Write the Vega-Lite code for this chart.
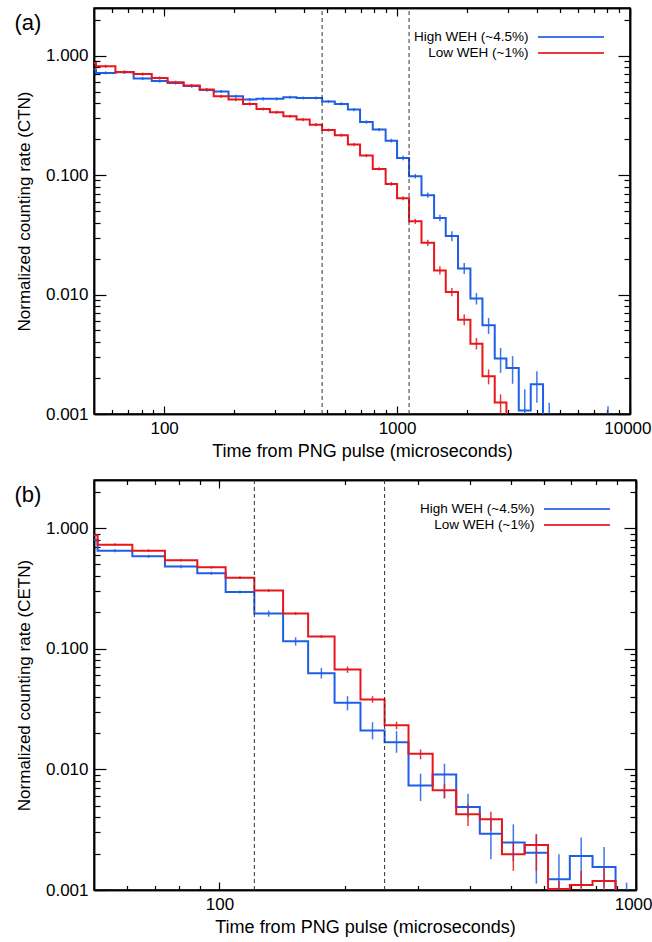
{
  "$schema": "https://vega.github.io/schema/vega-lite/v6.json",
  "background": "white",
  "padding": {"left": 13, "top": 6, "right": 0, "bottom": 0},
  "spacing": 17,
  "config": {
    "font": "Liberation Sans",
    "view": {"stroke": "black", "strokeWidth": 1.5},
    "axis": {"domainColor": "black", "domainWidth": 1.5, "tickColor": "black", "tickWidth": 1.2, "labelColor": "black", "titleColor": "black", "labelFontSize": 17, "titleFontSize": 17, "titleFontWeight": "normal", "grid": false},
    "legend": {"orient": "top-right", "offset": 22, "padding": 0, "symbolType": "M-5.7,0H5.7", "symbolSize": 134, "symbolStrokeWidth": 2, "labelAlign": "right", "labelOffset": -49.5, "labelFontSize": 13.5, "labelColor": "black", "rowPadding": 2, "labelLimit": 300}
  },
  "resolve": {"scale": {"color": "independent"}, "legend": {"color": "independent"}},
  "datasets": {
    "A": [
      {"s": "High WEH (~4.5%)", "t0": 45, "r": 0.764},
      {"s": "High WEH (~4.5%)", "t0": 51, "tc": 56.1, "r": 0.716, "lo": 0.695, "hi": 0.738},
      {"s": "High WEH (~4.5%)", "t0": 61.8, "tc": 67.6, "r": 0.725, "lo": 0.703, "hi": 0.747},
      {"s": "High WEH (~4.5%)", "t0": 74, "tc": 80.9, "r": 0.642, "lo": 0.623, "hi": 0.661},
      {"s": "High WEH (~4.5%)", "t0": 88.5, "tc": 95.7, "r": 0.612, "lo": 0.594, "hi": 0.63},
      {"s": "High WEH (~4.5%)", "t0": 103.5, "tc": 112.0, "r": 0.59, "lo": 0.572, "hi": 0.608},
      {"s": "High WEH (~4.5%)", "t0": 121.3, "tc": 131.3, "r": 0.555, "lo": 0.538, "hi": 0.572},
      {"s": "High WEH (~4.5%)", "t0": 142.2, "tc": 152.4, "r": 0.515, "lo": 0.5, "hi": 0.53},
      {"s": "High WEH (~4.5%)", "t0": 163.3, "tc": 175.7, "r": 0.5, "lo": 0.485, "hi": 0.515},
      {"s": "High WEH (~4.5%)", "t0": 189, "tc": 203.0, "r": 0.456, "lo": 0.442, "hi": 0.47},
      {"s": "High WEH (~4.5%)", "t0": 218.1, "tc": 233.1, "r": 0.428, "lo": 0.415, "hi": 0.441},
      {"s": "High WEH (~4.5%)", "t0": 249.2, "tc": 266.2, "r": 0.434, "lo": 0.421, "hi": 0.447},
      {"s": "High WEH (~4.5%)", "t0": 284.4, "tc": 304.0, "r": 0.434, "lo": 0.421, "hi": 0.447},
      {"s": "High WEH (~4.5%)", "t0": 325, "tc": 346.9, "r": 0.448, "lo": 0.435, "hi": 0.461},
      {"s": "High WEH (~4.5%)", "t0": 370.2, "tc": 395.2, "r": 0.442, "lo": 0.429, "hi": 0.455},
      {"s": "High WEH (~4.5%)", "t0": 421.8, "tc": 448.4, "r": 0.442, "lo": 0.429, "hi": 0.455},
      {"s": "High WEH (~4.5%)", "t0": 476.7, "tc": 507.6, "r": 0.412, "lo": 0.4, "hi": 0.424},
      {"s": "High WEH (~4.5%)", "t0": 540.4, "tc": 576.5, "r": 0.394, "lo": 0.382, "hi": 0.406},
      {"s": "High WEH (~4.5%)", "t0": 615, "tc": 653.2, "r": 0.353, "lo": 0.342, "hi": 0.364},
      {"s": "High WEH (~4.5%)", "t0": 693.7, "tc": 738.6, "r": 0.278, "lo": 0.269, "hi": 0.287},
      {"s": "High WEH (~4.5%)", "t0": 786.5, "tc": 838.2, "r": 0.24, "lo": 0.232, "hi": 0.248},
      {"s": "High WEH (~4.5%)", "t0": 893.2, "tc": 945.1, "r": 0.194, "lo": 0.187, "hi": 0.201},
      {"s": "High WEH (~4.5%)", "t0": 1000, "tc": 1061.1, "r": 0.139, "lo": 0.133, "hi": 0.145},
      {"s": "High WEH (~4.5%)", "t0": 1126, "tc": 1197.2, "r": 0.0977, "lo": 0.0935, "hi": 0.102},
      {"s": "High WEH (~4.5%)", "t0": 1273, "tc": 1354.9, "r": 0.0678, "lo": 0.0645, "hi": 0.0713},
      {"s": "High WEH (~4.5%)", "t0": 1442, "tc": 1527.5, "r": 0.0437, "lo": 0.041, "hi": 0.0465},
      {"s": "High WEH (~4.5%)", "t0": 1618, "tc": 1719.3, "r": 0.0309, "lo": 0.0279, "hi": 0.0339},
      {"s": "High WEH (~4.5%)", "t0": 1827, "tc": 1942.4, "r": 0.0165, "lo": 0.01487, "hi": 0.01838},
      {"s": "High WEH (~4.5%)", "t0": 2065, "tc": 2191.6, "r": 0.00925, "lo": 0.00825, "hi": 0.01031},
      {"s": "High WEH (~4.5%)", "t0": 2326, "tc": 2471.5, "r": 0.00553, "lo": 0.00468, "hi": 0.00637},
      {"s": "High WEH (~4.5%)", "t0": 2626, "tc": 2782.3, "r": 0.00291, "lo": 0.00221, "hi": 0.00357},
      {"s": "High WEH (~4.5%)", "t0": 2948, "tc": 3133.2, "r": 0.00243, "lo": 0.00179, "hi": 0.00305},
      {"s": "High WEH (~4.5%)", "t0": 3330, "tc": 3533.3, "r": 0.00107, "lo": 0.0008, "hi": 0.00161},
      {"s": "High WEH (~4.5%)", "t0": 3749, "tc": 3983.7, "r": 0.00177, "lo": 0.00124, "hi": 0.00228},
      {"s": "High WEH (~4.5%)", "t0": 4233, "tc": 4501.0, "r": 0.0007, "lo": 0.0005, "hi": 0.00124},
      {"s": "High WEH (~4.5%)", "t0": 4786, "r": 0.0003},
      {"s": "High WEH (~4.5%)", "t0": 7550, "tc": 8046, "r": 0.0007, "lo": 0.0005, "hi": 0.00116},
      {"s": "High WEH (~4.5%)", "t0": 8580, "r": 0.0007},
      {"s": "Low WEH (~1%)", "t0": 45, "r": 0.86},
      {"s": "Low WEH (~1%)", "t0": 51, "tc": 56.1, "r": 0.814, "lo": 0.79, "hi": 0.838},
      {"s": "Low WEH (~1%)", "t0": 61.8, "tc": 67.6, "r": 0.73, "lo": 0.708, "hi": 0.752},
      {"s": "Low WEH (~1%)", "t0": 74, "tc": 80.9, "r": 0.7, "lo": 0.679, "hi": 0.721},
      {"s": "Low WEH (~1%)", "t0": 88.5, "tc": 95.7, "r": 0.65, "lo": 0.631, "hi": 0.669},
      {"s": "Low WEH (~1%)", "t0": 103.5, "tc": 112.0, "r": 0.598, "lo": 0.58, "hi": 0.616},
      {"s": "Low WEH (~1%)", "t0": 121.3, "tc": 131.3, "r": 0.561, "lo": 0.544, "hi": 0.578},
      {"s": "Low WEH (~1%)", "t0": 142.2, "tc": 152.4, "r": 0.519, "lo": 0.503, "hi": 0.535},
      {"s": "Low WEH (~1%)", "t0": 163.3, "tc": 175.7, "r": 0.456, "lo": 0.442, "hi": 0.47},
      {"s": "Low WEH (~1%)", "t0": 189, "tc": 203.0, "r": 0.428, "lo": 0.415, "hi": 0.441},
      {"s": "Low WEH (~1%)", "t0": 218.1, "tc": 233.1, "r": 0.394, "lo": 0.382, "hi": 0.406},
      {"s": "Low WEH (~1%)", "t0": 249.2, "tc": 266.2, "r": 0.357, "lo": 0.346, "hi": 0.368},
      {"s": "Low WEH (~1%)", "t0": 284.4, "tc": 304.0, "r": 0.335, "lo": 0.325, "hi": 0.345},
      {"s": "Low WEH (~1%)", "t0": 325, "tc": 346.9, "r": 0.311, "lo": 0.302, "hi": 0.32},
      {"s": "Low WEH (~1%)", "t0": 370.2, "tc": 395.2, "r": 0.291, "lo": 0.282, "hi": 0.3},
      {"s": "Low WEH (~1%)", "t0": 421.8, "tc": 448.4, "r": 0.264, "lo": 0.256, "hi": 0.272},
      {"s": "Low WEH (~1%)", "t0": 476.7, "tc": 507.6, "r": 0.238, "lo": 0.231, "hi": 0.245},
      {"s": "Low WEH (~1%)", "t0": 540.4, "tc": 576.5, "r": 0.2155, "lo": 0.209, "hi": 0.222},
      {"s": "Low WEH (~1%)", "t0": 615, "tc": 653.2, "r": 0.18, "lo": 0.1745, "hi": 0.1855},
      {"s": "Low WEH (~1%)", "t0": 693.7, "tc": 738.6, "r": 0.1456, "lo": 0.141, "hi": 0.15},
      {"s": "Low WEH (~1%)", "t0": 786.5, "tc": 838.2, "r": 0.1125, "lo": 0.109, "hi": 0.116},
      {"s": "Low WEH (~1%)", "t0": 893.2, "tc": 945.1, "r": 0.0843, "lo": 0.0813, "hi": 0.0873},
      {"s": "Low WEH (~1%)", "t0": 1000, "tc": 1061.1, "r": 0.064, "lo": 0.0615, "hi": 0.0665},
      {"s": "Low WEH (~1%)", "t0": 1126, "tc": 1197.2, "r": 0.041, "lo": 0.039, "hi": 0.043},
      {"s": "Low WEH (~1%)", "t0": 1273, "tc": 1354.9, "r": 0.0271, "lo": 0.0255, "hi": 0.0287},
      {"s": "Low WEH (~1%)", "t0": 1442, "tc": 1527.5, "r": 0.0159, "lo": 0.0147, "hi": 0.01725},
      {"s": "Low WEH (~1%)", "t0": 1618, "tc": 1719.3, "r": 0.0105, "lo": 0.00968, "hi": 0.01135},
      {"s": "Low WEH (~1%)", "t0": 1827, "tc": 1942.4, "r": 0.00614, "lo": 0.00553, "hi": 0.00684},
      {"s": "Low WEH (~1%)", "t0": 2065, "tc": 2191.6, "r": 0.00387, "lo": 0.00347, "hi": 0.00433},
      {"s": "Low WEH (~1%)", "t0": 2326, "tc": 2471.5, "r": 0.00207, "lo": 0.00177, "hi": 0.00236},
      {"s": "Low WEH (~1%)", "t0": 2626, "tc": 2782.3, "r": 0.00125, "lo": 0.0008, "hi": 0.00146},
      {"s": "Low WEH (~1%)", "t0": 2948, "r": 0.0004},
      {"s": "Low WEH (~1%)", "t0": 3330, "r": 0.0004}
    ],
    "B": [
      {"s": "High WEH (~4.5%)", "t0": 45, "r": 0.8},
      {"s": "High WEH (~4.5%)", "t0": 51, "tc": 56.1, "r": 0.649, "lo": 0.63, "hi": 0.668},
      {"s": "High WEH (~4.5%)", "t0": 61.8, "tc": 67.6, "r": 0.583, "lo": 0.566, "hi": 0.6},
      {"s": "High WEH (~4.5%)", "t0": 74, "tc": 80.9, "r": 0.479, "lo": 0.465, "hi": 0.493},
      {"s": "High WEH (~4.5%)", "t0": 88.5, "tc": 95.7, "r": 0.4216, "lo": 0.409, "hi": 0.434},
      {"s": "High WEH (~4.5%)", "t0": 103.5, "tc": 112.0, "r": 0.295, "lo": 0.286, "hi": 0.304},
      {"s": "High WEH (~4.5%)", "t0": 121.3, "tc": 131.3, "r": 0.1955, "lo": 0.184, "hi": 0.207},
      {"s": "High WEH (~4.5%)", "t0": 142.2, "tc": 152.4, "r": 0.115, "lo": 0.106, "hi": 0.1245},
      {"s": "High WEH (~4.5%)", "t0": 163.3, "tc": 175.7, "r": 0.0626, "lo": 0.0566, "hi": 0.0693},
      {"s": "High WEH (~4.5%)", "t0": 189, "tc": 203.0, "r": 0.0356, "lo": 0.0308, "hi": 0.0404},
      {"s": "High WEH (~4.5%)", "t0": 218.1, "tc": 233.1, "r": 0.021, "lo": 0.0177, "hi": 0.0246},
      {"s": "High WEH (~4.5%)", "t0": 249.2, "tc": 266.2, "r": 0.0168, "lo": 0.01372, "hi": 0.0207},
      {"s": "High WEH (~4.5%)", "t0": 284.4, "tc": 304.0, "r": 0.00736, "lo": 0.00546, "hi": 0.0092},
      {"s": "High WEH (~4.5%)", "t0": 325, "tc": 346.9, "r": 0.00908, "lo": 0.00575, "hi": 0.01113},
      {"s": "High WEH (~4.5%)", "t0": 370.2, "tc": 395.2, "r": 0.00487, "lo": 0.00403, "hi": 0.00628},
      {"s": "High WEH (~4.5%)", "t0": 421.8, "tc": 448.4, "r": 0.00293, "lo": 0.0018, "hi": 0.00397},
      {"s": "High WEH (~4.5%)", "t0": 476.7, "tc": 507.6, "r": 0.00247, "lo": 0.00174, "hi": 0.0035},
      {"s": "High WEH (~4.5%)", "t0": 540.4, "tc": 576.5, "r": 0.00204, "lo": 0.00113, "hi": 0.0029},
      {"s": "High WEH (~4.5%)", "t0": 615, "tc": 653.2, "r": 0.00123, "lo": 0.0007, "hi": 0.00198},
      {"s": "High WEH (~4.5%)", "t0": 693.7, "tc": 738.6, "r": 0.00191, "lo": 0.00105, "hi": 0.00272},
      {"s": "High WEH (~4.5%)", "t0": 786.5, "tc": 838.2, "r": 0.00155, "lo": 0.00105, "hi": 0.00227},
      {"s": "High WEH (~4.5%)", "t0": 893.2, "tc": 949.3, "r": 0.0007, "lo": 0.0005, "hi": 0.00115},
      {"s": "High WEH (~4.5%)", "t0": 1009, "r": 0.0007},
      {"s": "Low WEH (~1%)", "t0": 45, "r": 0.87},
      {"s": "Low WEH (~1%)", "t0": 51, "tc": 56.1, "r": 0.728, "lo": 0.71, "hi": 0.746},
      {"s": "Low WEH (~1%)", "t0": 61.8, "tc": 67.6, "r": 0.649, "lo": 0.633, "hi": 0.665},
      {"s": "Low WEH (~1%)", "t0": 74, "tc": 80.9, "r": 0.54, "lo": 0.527, "hi": 0.553},
      {"s": "Low WEH (~1%)", "t0": 88.5, "tc": 95.7, "r": 0.472, "lo": 0.46, "hi": 0.484},
      {"s": "Low WEH (~1%)", "t0": 103.5, "tc": 112.0, "r": 0.388, "lo": 0.378, "hi": 0.398},
      {"s": "Low WEH (~1%)", "t0": 121.3, "tc": 131.3, "r": 0.303, "lo": 0.295, "hi": 0.311},
      {"s": "Low WEH (~1%)", "t0": 142.2, "tc": 152.4, "r": 0.1955, "lo": 0.19, "hi": 0.201},
      {"s": "Low WEH (~1%)", "t0": 163.3, "tc": 175.7, "r": 0.126, "lo": 0.1225, "hi": 0.1295},
      {"s": "Low WEH (~1%)", "t0": 189, "tc": 203.0, "r": 0.0672, "lo": 0.063, "hi": 0.0712},
      {"s": "Low WEH (~1%)", "t0": 218.1, "tc": 233.1, "r": 0.0379, "lo": 0.0356, "hi": 0.0404},
      {"s": "Low WEH (~1%)", "t0": 249.2, "tc": 266.2, "r": 0.02325, "lo": 0.02143, "hi": 0.02478},
      {"s": "Low WEH (~1%)", "t0": 284.4, "tc": 304.0, "r": 0.01346, "lo": 0.0121, "hi": 0.01463},
      {"s": "Low WEH (~1%)", "t0": 325, "tc": 346.9, "r": 0.0067, "lo": 0.00575, "hi": 0.0076},
      {"s": "Low WEH (~1%)", "t0": 370.2, "tc": 395.2, "r": 0.00424, "lo": 0.00339, "hi": 0.00513},
      {"s": "Low WEH (~1%)", "t0": 421.8, "tc": 448.4, "r": 0.00385, "lo": 0.00308, "hi": 0.00446},
      {"s": "Low WEH (~1%)", "t0": 476.7, "tc": 507.6, "r": 0.00198, "lo": 0.00144, "hi": 0.00247},
      {"s": "Low WEH (~1%)", "t0": 540.4, "tc": 576.5, "r": 0.00236, "lo": 0.00144, "hi": 0.0029},
      {"s": "Low WEH (~1%)", "t0": 615, "tc": 653.2, "r": 0.00102, "lo": 0.0008, "hi": 0.00119},
      {"s": "Low WEH (~1%)", "t0": 693.7, "tc": 738.6, "r": 0.0011, "lo": 0.0008, "hi": 0.00144},
      {"s": "Low WEH (~1%)", "t0": 786.5, "tc": 838.2, "r": 0.00119, "lo": 0.0008, "hi": 0.00153},
      {"s": "Low WEH (~1%)", "t0": 893.2, "r": 0.0005},
      {"s": "Low WEH (~1%)", "t0": 1009, "r": 0.0005}
    ],
    "dA": [{"t": 476.7}, {"t": 1126}],
    "dB": [{"t": 121.3}, {"t": 249.2}]
  },
  "vconcat": [
    {
      "width": 536,
      "height": 406,
      "data": {"name": "A"},
      "layer": [
        {
          "transform": [{"filter": "datum.s === 'High WEH (~4.5%)'"}],
          "mark": {"type": "line", "interpolate": "step-after", "strokeWidth": 2, "clip": true},
          "encoding": {
            "x": {"field": "t0", "type": "quantitative", "scale": {"type": "log", "domain": [50, 10000], "nice": false}, "axis": {"orient": "bottom", "values": [100, 1000, 10000], "format": "d", "tickSize": -8, "labelPadding": 14, "labelFlush": true, "labelFlushOffset": 21, "title": "Time from PNG pulse (microseconds)", "titleFontSize": 18, "titlePadding": 6}},
            "y": {"field": "r", "type": "quantitative", "scale": {"type": "log", "domain": [0.001, 2.5], "nice": false}, "axis": {"orient": "left", "values": [0.001, 0.01, 0.1, 1], "format": ".3f", "tickSize": -12, "labelPadding": 18, "title": "Normalized counting rate (CTN)", "titlePadding": 12}},
            "color": {"field": "s", "type": "nominal", "scale": {"domain": ["High WEH (~4.5%)", "Low WEH (~1%)"], "range": ["#1f5fe6", "#e8161d"]}, "legend": {"title": null}}
          }
        },
        {
          "transform": [{"filter": "datum.s === 'Low WEH (~1%)'"}],
          "mark": {"type": "line", "interpolate": "step-after", "strokeWidth": 2, "clip": true},
          "encoding": {
            "x": {"field": "t0", "type": "quantitative", "scale": {"type": "log", "domain": [50, 10000], "nice": false}, "axis": {"orient": "bottom", "values": [60, 70, 80, 90, 200, 300, 400, 500, 600, 700, 800, 900, 2000, 3000, 4000, 5000, 6000, 7000, 8000, 9000], "labels": false, "tickSize": -4.5, "title": null}},
            "y": {"field": "r", "type": "quantitative", "scale": {"type": "log", "domain": [0.001, 2.5], "nice": false}, "axis": {"orient": "left", "values": [0.002, 0.003, 0.004, 0.005, 0.006, 0.007, 0.008, 0.009, 0.02, 0.03, 0.04, 0.05, 0.06, 0.07, 0.08, 0.09, 0.2, 0.3, 0.4, 0.5, 0.6, 0.7, 0.8, 0.9, 2], "labels": false, "tickSize": -6, "title": "(a)", "titleAngle": 0, "titleX": -80, "titleY": 21.5, "titleAlign": "left", "titleBaseline": "alphabetic", "titleFontSize": 22}},
            "color": {"field": "s", "type": "nominal", "scale": {"domain": ["High WEH (~4.5%)", "Low WEH (~1%)"], "range": ["#1f5fe6", "#e8161d"]}}
          }
        },
        {
          "transform": [{"filter": "isValid(datum.lo)"}],
          "mark": {"type": "rule", "strokeWidth": 1.5, "clip": true, "opacity": 0.85},
          "encoding": {
            "x": {"field": "tc", "type": "quantitative", "scale": {"type": "log", "domain": [50, 10000], "nice": false}, "axis": {"orient": "top", "values": [100, 1000, 10000], "labels": false, "tickSize": -8, "title": null}},
            "y": {"field": "lo", "type": "quantitative", "scale": {"type": "log", "domain": [0.001, 2.5], "nice": false}, "axis": {"orient": "right", "values": [0.001, 0.01, 0.1, 1], "labels": false, "tickSize": -12, "title": null}},
            "y2": {"field": "hi"},
            "color": {"field": "s", "type": "nominal", "scale": {"domain": ["High WEH (~4.5%)", "Low WEH (~1%)"], "range": ["#1f5fe6", "#e8161d"]}}
          }
        },
        {
          "data": {"name": "dA"},
          "mark": {"type": "rule", "strokeDash": [4, 3], "color": "#333333", "strokeWidth": 1},
          "encoding": {
            "x": {"field": "t", "type": "quantitative", "scale": {"type": "log", "domain": [50, 10000], "nice": false}, "axis": {"orient": "top", "values": [60, 70, 80, 90, 200, 300, 400, 500, 600, 700, 800, 900, 2000, 3000, 4000, 5000, 6000, 7000, 8000, 9000], "labels": false, "tickSize": -4.5, "title": null}},
            "y": {"datum": 0.001, "type": "quantitative", "scale": {"type": "log", "domain": [0.001, 2.5], "nice": false}, "axis": {"orient": "right", "values": [0.002, 0.003, 0.004, 0.005, 0.006, 0.007, 0.008, 0.009, 0.02, 0.03, 0.04, 0.05, 0.06, 0.07, 0.08, 0.09, 0.2, 0.3, 0.4, 0.5, 0.6, 0.7, 0.8, 0.9, 2], "labels": false, "tickSize": -6, "title": null}},
            "y2": {"datum": 2.5}
          }
        }
      ],
      "resolve": {"axis": {"x": "independent", "y": "independent"}}
    },
    {
      "width": 542,
      "height": 410,
      "data": {"name": "B"},
      "layer": [
        {
          "transform": [{"filter": "datum.s === 'High WEH (~4.5%)'"}],
          "mark": {"type": "line", "interpolate": "step-after", "strokeWidth": 2, "clip": true},
          "encoding": {
            "x": {"field": "t0", "type": "quantitative", "scale": {"type": "log", "domain": [50, 1000], "nice": false}, "axis": {"orient": "bottom", "values": [100, 1000], "format": "d", "tickSize": -8, "labelPadding": 14, "labelFlush": true, "labelFlushOffset": 16, "title": "Time from PNG pulse (microseconds)", "titleFontSize": 18, "titlePadding": 6}},
            "y": {"field": "r", "type": "quantitative", "scale": {"type": "log", "domain": [0.001, 2.5], "nice": false}, "axis": {"orient": "left", "values": [0.001, 0.01, 0.1, 1], "format": ".3f", "tickSize": -12, "labelPadding": 18, "title": "Normalized counting rate (CETN)", "titlePadding": 12}},
            "color": {"field": "s", "type": "nominal", "scale": {"domain": ["High WEH (~4.5%)", "Low WEH (~1%)"], "range": ["#1f5fe6", "#e8161d"]}, "legend": {"title": null}}
          }
        },
        {
          "transform": [{"filter": "datum.s === 'Low WEH (~1%)'"}],
          "mark": {"type": "line", "interpolate": "step-after", "strokeWidth": 2, "clip": true},
          "encoding": {
            "x": {"field": "t0", "type": "quantitative", "scale": {"type": "log", "domain": [50, 1000], "nice": false}, "axis": {"orient": "bottom", "values": [60, 70, 80, 90, 200, 300, 400, 500, 600, 700, 800, 900], "labels": false, "tickSize": -4.5, "title": null}},
            "y": {"field": "r", "type": "quantitative", "scale": {"type": "log", "domain": [0.001, 2.5], "nice": false}, "axis": {"orient": "left", "values": [0.002, 0.003, 0.004, 0.005, 0.006, 0.007, 0.008, 0.009, 0.02, 0.03, 0.04, 0.05, 0.06, 0.07, 0.08, 0.09, 0.2, 0.3, 0.4, 0.5, 0.6, 0.7, 0.8, 0.9, 2], "labels": false, "tickSize": -6, "title": "(b)", "titleAngle": 0, "titleX": -80, "titleY": 21.5, "titleAlign": "left", "titleBaseline": "alphabetic", "titleFontSize": 22}},
            "color": {"field": "s", "type": "nominal", "scale": {"domain": ["High WEH (~4.5%)", "Low WEH (~1%)"], "range": ["#1f5fe6", "#e8161d"]}}
          }
        },
        {
          "transform": [{"filter": "isValid(datum.lo)"}],
          "mark": {"type": "rule", "strokeWidth": 1.5, "clip": true, "opacity": 0.85},
          "encoding": {
            "x": {"field": "tc", "type": "quantitative", "scale": {"type": "log", "domain": [50, 1000], "nice": false}, "axis": {"orient": "top", "values": [100, 1000], "labels": false, "tickSize": -8, "title": null}},
            "y": {"field": "lo", "type": "quantitative", "scale": {"type": "log", "domain": [0.001, 2.5], "nice": false}, "axis": {"orient": "right", "values": [0.001, 0.01, 0.1, 1], "labels": false, "tickSize": -12, "title": null}},
            "y2": {"field": "hi"},
            "color": {"field": "s", "type": "nominal", "scale": {"domain": ["High WEH (~4.5%)", "Low WEH (~1%)"], "range": ["#1f5fe6", "#e8161d"]}}
          }
        },
        {
          "data": {"name": "dB"},
          "mark": {"type": "rule", "strokeDash": [4, 3], "color": "#333333", "strokeWidth": 1},
          "encoding": {
            "x": {"field": "t", "type": "quantitative", "scale": {"type": "log", "domain": [50, 1000], "nice": false}, "axis": {"orient": "top", "values": [60, 70, 80, 90, 200, 300, 400, 500, 600, 700, 800, 900], "labels": false, "tickSize": -4.5, "title": null}},
            "y": {"datum": 0.001, "type": "quantitative", "scale": {"type": "log", "domain": [0.001, 2.5], "nice": false}, "axis": {"orient": "right", "values": [0.002, 0.003, 0.004, 0.005, 0.006, 0.007, 0.008, 0.009, 0.02, 0.03, 0.04, 0.05, 0.06, 0.07, 0.08, 0.09, 0.2, 0.3, 0.4, 0.5, 0.6, 0.7, 0.8, 0.9, 2], "labels": false, "tickSize": -6, "title": null}},
            "y2": {"datum": 2.5}
          }
        }
      ],
      "resolve": {"axis": {"x": "independent", "y": "independent"}}
    }
  ]
}
